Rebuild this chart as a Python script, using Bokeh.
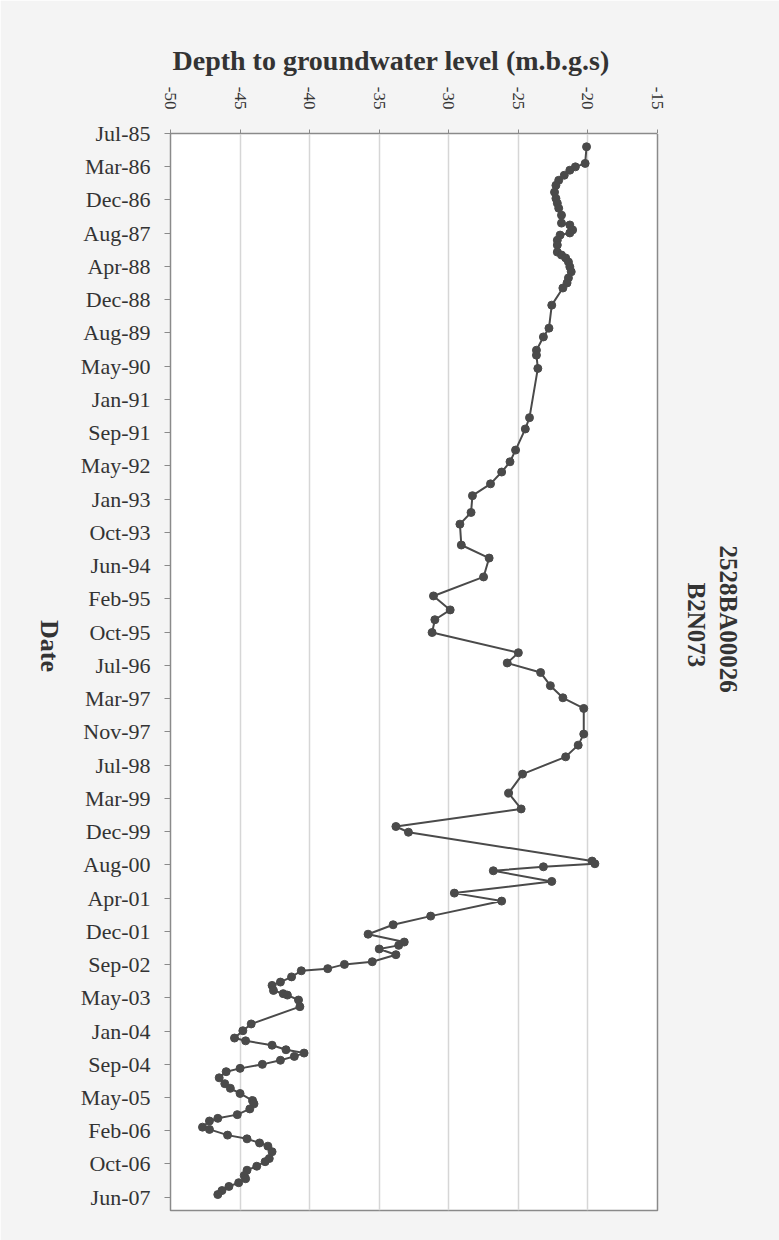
import math
import pandas as pd
from bokeh.plotting import figure
from bokeh.models import Range1d, FixedTicker, Title, ColumnDataSource, LinearAxis
from bokeh.embed import file_html
from bokeh.resources import INLINE

# ---- data ----
axis_start = "1985-07-23"          # first date tick (Jul-85)
tick_step_days = 250               # spacing of the date ticks
axis_span_days = 8100              # length of the date axis
date_tick_labels = ["Jul-85", "Mar-86", "Dec-86", "Aug-87", "Apr-88", "Dec-88", "Aug-89",
                    "May-90", "Jan-91", "Sep-91", "May-92", "Jan-93", "Oct-93", "Jun-94",
                    "Feb-95", "Oct-95", "Jul-96", "Mar-97", "Nov-97", "Jul-98", "Mar-99",
                    "Dec-99", "Aug-00", "Apr-01", "Dec-01", "Sep-02", "May-03", "Jan-04",
                    "Sep-04", "May-05", "Feb-06", "Oct-06", "Jun-07"]
depth_ticks = [-50, -45, -40, -35, -30, -25, -20, -15]
depth_tick_labels = ["-50", "-45", "-40", "-35", "-30", "-25", "-20", "-15"]

dates = ["1985-10-31", "1986-03-05", "1986-03-31", "1986-04-25", "1986-06-02", "1986-07-10",
         "1986-08-17", "1986-10-07", "1986-11-23", "1986-12-29", "1987-02-05", "1987-03-29",
         "1987-05-28", "1987-06-11", "1987-07-18", "1987-08-10", "1987-08-26", "1987-10-03",
         "1987-11-09", "1988-01-01", "1988-01-23", "1988-02-14", "1988-03-15", "1988-04-21",
         "1988-05-28", "1988-07-13", "1988-08-20", "1988-09-27", "1989-02-03", "1989-07-26",
         "1989-09-30", "1990-01-08", "1990-02-14", "1990-05-25", "1991-05-30", "1991-08-23",
         "1992-01-29", "1992-04-26", "1992-07-12", "1992-10-09", "1993-01-06", "1993-05-12",
         "1993-08-08", "1994-01-12", "1994-04-20", "1994-09-09", "1995-01-30", "1995-05-15",
         "1995-07-28", "1995-11-01", "1996-04-01", "1996-06-17", "1996-08-28", "1996-12-05",
         "1997-03-06", "1997-05-25", "1997-12-04", "1998-02-25", "1998-05-24", "1998-10-01",
         "1999-02-21", "1999-06-20", "1999-10-30", "1999-12-12", "2000-07-16", "2000-08-05",
         "2000-08-28", "2000-09-27", "2000-12-16", "2001-03-14", "2001-05-13", "2001-09-03",
         "2001-11-07", "2002-01-17", "2002-03-17", "2002-04-11", "2002-05-08", "2002-06-20",
         "2002-08-12", "2002-09-01", "2002-10-03", "2002-10-19", "2002-12-04", "2003-01-12",
         "2003-02-06", "2003-03-16", "2003-04-09", "2003-04-20", "2003-05-27", "2003-07-16",
         "2003-11-23", "2004-01-13", "2004-03-08", "2004-03-29", "2004-05-01", "2004-06-04",
         "2004-06-29", "2004-07-24", "2004-08-22", "2004-09-22", "2004-10-22", "2004-11-16",
         "2005-01-01", "2005-02-14", "2005-03-21", "2005-04-29", "2005-06-21", "2005-07-16",
         "2005-08-23", "2005-10-05", "2005-11-02", "2005-11-22", "2006-01-07", "2006-01-24",
         "2006-03-08", "2006-04-05", "2006-05-06", "2006-05-30", "2006-07-11", "2006-08-31",
         "2006-09-24", "2006-10-28", "2006-11-27", "2007-01-05", "2007-01-30", "2007-03-01",
         "2007-03-29", "2007-04-29", "2007-05-29"]
depth = [-20.1, -20.2, -20.9, -21.3, -21.7, -22.1,
         -22.3, -22.4, -22.3, -22.2, -22.1, -21.9,
         -21.9, -21.3, -21.1, -21.3, -22.0, -22.2,
         -22.2, -22.2, -21.9, -21.6, -21.4, -21.3,
         -21.2, -21.4, -21.5, -21.8, -22.6, -22.8,
         -23.2, -23.7, -23.7, -23.6, -24.2, -24.5,
         -25.2, -25.6, -26.2, -27.0, -28.3, -28.4,
         -29.2, -29.1, -27.1, -27.5, -31.1, -29.9,
         -31.0, -31.2, -25.0, -25.8, -23.4, -22.7,
         -21.8, -20.3, -20.3, -20.7, -21.6, -24.7,
         -25.7, -24.8, -33.8, -32.9, -19.7, -19.5,
         -23.2, -26.8, -22.6, -29.6, -26.2, -31.3,
         -34.0, -35.8, -33.2, -33.6, -35.0, -33.8,
         -35.5, -37.5, -38.7, -40.6, -41.3, -42.1,
         -42.7, -42.6, -41.9, -41.6, -40.8, -40.7,
         -44.2, -44.8, -45.4, -44.6, -42.7, -41.7,
         -40.4, -41.1, -42.1, -43.4, -45.0, -46.0,
         -46.5, -46.1, -45.7, -45.0, -44.1, -44.0,
         -44.3, -45.2, -46.6, -47.2, -47.7, -47.2,
         -45.9, -44.5, -43.6, -43.0, -42.7, -42.9,
         -43.2, -43.8, -44.5, -44.7, -44.6, -45.1,
         -45.8, -46.3, -46.6]

title_text = "Depth to groundwater level (m.b.g.s)"
date_label = "Date"
station_lines = ["2528BA00026", "B2N073"]

# ---- build ----
start = pd.Timestamp(axis_start)
day_offset = [(pd.Timestamp(d) - start).days for d in dates]
source = ColumnDataSource(dict(depth=depth, day=day_offset))

tick_days = [i * tick_step_days for i in range(len(date_tick_labels))]

FONT = "Liberation Serif"
GREY = "#4a4a4a"
TXT = "#333333"
BG = "#f4f4f4"

p = figure(width=779, height=1240,
           x_range=Range1d(depth_ticks[0], depth_ticks[-1]),
           y_range=Range1d(axis_span_days, 0),
           x_axis_location="above",
           output_backend="svg", toolbar_location=None,
           min_border_left=170, min_border_right=122,
           min_border_top=133, min_border_bottom=30,
           background_fill_color="white", border_fill_color=BG)

p.outline_line_color = "#8a8a8a"
p.outline_line_width = 1.5

# main title (above the depth axis)
p.title.text = title_text
p.title.text_font = FONT
p.title.text_font_style = "bold"
p.title.text_font_size = "28px"
p.title.text_color = TXT
p.title.align = "left"
p.title.offset = 2
p.title.standoff = 16

# top (depth) axis
xa = p.xaxis[0]
xa.ticker = FixedTicker(ticks=depth_ticks)
xa.major_label_overrides = {t: lab for t, lab in zip(depth_ticks, depth_tick_labels)}
xa.major_label_orientation = -math.pi / 2
xa.major_label_text_font = FONT
xa.major_label_text_font_size = "17px"
xa.major_label_text_color = TXT
xa.major_label_standoff = 20
xa.major_tick_out = 4
xa.major_tick_in = 0
xa.minor_tick_out = 0
xa.minor_tick_in = 0
xa.axis_line_color = "#8a8a8a"
xa.major_tick_line_color = "#8a8a8a"

# left (date) axis
ya = p.yaxis[0]
ya.ticker = FixedTicker(ticks=tick_days)
ya.major_label_overrides = {t: lab for t, lab in zip(tick_days, date_tick_labels)}
ya.major_label_text_font = FONT
ya.major_label_text_font_size = "22px"
ya.major_label_text_color = TXT
ya.major_label_standoff = 14
ya.major_tick_out = 6
ya.major_tick_in = 0
ya.minor_tick_out = 0
ya.minor_tick_in = 0
ya.axis_line_color = "#8a8a8a"
ya.major_tick_line_color = "#8a8a8a"
ya.axis_label = date_label
ya.axis_label_text_font = FONT
ya.axis_label_text_font_style = "bold"
ya.axis_label_text_font_size = "26px"
ya.axis_label_text_color = TXT
ya.axis_label_standoff = 28
if "axis_label_orientation" in ya.properties():
    ya.axis_label_orientation = -math.pi / 2

p.xgrid.ticker = FixedTicker(ticks=depth_ticks)
p.xgrid.grid_line_color = "#d6d6d6"
p.xgrid.grid_line_width = 1.5
p.ygrid.grid_line_color = None

p.line(x="depth", y="day", source=source, line_color=GREY, line_width=2)
p.scatter(x="depth", y="day", source=source, size=8, marker="circle",
          fill_color=GREY, line_color=GREY)

# blank spacer between the frame and the station name:
# one tick at the top corner, drawn in the background colour, with no label
spacer = LinearAxis(ticker=FixedTicker(ticks=[tick_days[0]]), axis_line_color=None,
                    major_tick_line_color=BG, minor_tick_line_color=None,
                    major_tick_out=23, major_tick_in=0, minor_tick_out=0, minor_tick_in=0,
                    major_label_text_font_size="0px", major_label_standoff=0,
                    major_label_overrides={tick_days[0]: ""})
p.add_layout(spacer, "right")

# station name on the right, two lines reading downwards
p.add_layout(Title(text=station_lines[1], text_font=FONT, text_font_style="bold",
                   text_font_size="25px", text_color=TXT, align="left",
                   offset=449, standoff=4), "right")
p.add_layout(Title(text=station_lines[0], text_font=FONT, text_font_style="bold",
                   text_font_size="25px", text_color=TXT, align="left",
                   offset=412, standoff=2), "right")

open("out.html", "w").write(file_html(p, INLINE))
